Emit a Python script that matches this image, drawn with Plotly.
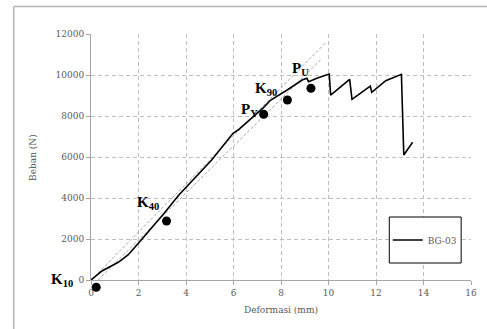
import plotly.graph_objects as go

# Load-deformation curve BG-03
deform = [0, 0.46, 1.15, 1.56, 2.05, 2.60, 3.08, 3.70, 5.08, 5.98, 6.19, 7.23, 7.57, 8.26, 8.89,
          9.09, 9.16, 9.51, 10.03, 10.09, 10.89, 10.99, 11.76, 11.82, 12.41, 13.07, 13.17, 13.54]
beban = [0, 439, 863, 1220, 1868, 2600, 3254, 4146, 5854, 7156, 7317, 8375, 8780, 9268, 9756,
         9839, 9673, 9839, 10049, 9024, 9790, 8815, 9463, 9156, 9722, 10033, 6098, 6717]

# Key points
pt_names = ["K<sub>10</sub>", "K<sub>40</sub>", "P<sub>Y</sub>", "K<sub>90</sub>", "P<sub>U</sub>"]
pt_x = [0.22, 3.18, 7.27, 8.27, 9.26]
pt_y = [-356, 2878, 8083, 8780, 9351]
lbl_x = [-1.23, 2.42, 6.69, 7.37, 8.82]
lbl_y = [0, 3756, 8293, 9317, 10293]

# Reference (stiffness) lines
refA_x = [0, 9.86]
refA_y = [0, 11550]
refB_x = [0.3, 9.72]
refB_y = [0, 10800]

x_ticks = [0, 2, 4, 6, 8, 10, 12, 14, 16]
y_ticks = [0, 2000, 4000, 6000, 8000, 10000, 12000]

font_ax = "DejaVu Serif"
grey_txt = "#595959"

X_MIN, X_MAX, Y_MIN, Y_MAX = 0, 16, 0, 12000

# pixel layout of the plotting region
L, R, T, B0, B = 91, 477, 34, 280, 292   # B0: pixel of y=0, B: bottom of extended area
W = R - L
H = B - T
d0 = (B - B0) / H                          # main y-axis domain start
ext = (B - B0) / (B0 - T) * (Y_MAX - Y_MIN)  # extra data room below y=0


def pxX(p):
    return (p - L) / W


def pxY(p):
    return (B - p) / H


def dataY(y):
    return pxY(B0 - (y - Y_MIN) / (Y_MAX - Y_MIN) * (B0 - T))


fig = go.Figure()
for rx, ry in [(refA_x, refA_y), (refB_x, refB_y)]:
    fig.add_trace(go.Scatter(x=rx, y=ry, mode="lines", showlegend=False,
                             line=dict(color="#a6a6a6", width=1, dash="3px,2px"),
                             hoverinfo="skip"))
fig.add_trace(go.Scatter(x=deform, y=beban, mode="lines", name="BG-03",
                         line=dict(color="black", width=1.6)))
# key points on a same-scale subplot extended below zero so the K10 point shows
fig.add_trace(go.Scatter(x=pt_x, y=pt_y, mode="markers", showlegend=False,
                         xaxis="x2", yaxis="y2",
                         marker=dict(color="black", size=9), cliponaxis=False))

annotations = []
for t, ax_, ay_ in zip(pt_names, lbl_x, lbl_y):
    annotations.append(dict(x=(ax_ - X_MIN) / (X_MAX - X_MIN), y=dataY(ay_),
                            xref="paper", yref="paper", text="<b>" + t + "</b>",
                            showarrow=False,
                            font=dict(family="Liberation Serif", size=15, color="black"),
                            xanchor="center", yanchor="middle"))
annotations.append(dict(x=0.5, y=pxY(310), xref="paper", yref="paper",
                        text="Deformasi (mm)", showarrow=False,
                        font=dict(family=font_ax, size=9, color=grey_txt),
                        xanchor="center", yanchor="middle"))
annotations.append(dict(x=pxX(32), y=pxY(157), xref="paper", yref="paper",
                        text="Beban (N)", showarrow=False, textangle=-90,
                        font=dict(family=font_ax, size=9, color=grey_txt),
                        xanchor="center", yanchor="middle"))

shapes = [
    # outer chart border (left and top edges visible)
    dict(type="line", xref="paper", yref="paper", x0=pxX(12.5), x1=pxX(12.5),
         y0=pxY(345), y1=pxY(6.5), line=dict(color="#b4b4b4", width=1.5)),
    dict(type="line", xref="paper", yref="paper", x0=pxX(12.5), x1=pxX(500),
         y0=pxY(6.5), y1=pxY(6.5), line=dict(color="#b4b4b4", width=1.5)),
    # legend box
    dict(type="rect", xref="paper", yref="paper", layer="above",
         x0=pxX(394), x1=pxX(467), y0=pxY(263), y1=pxY(217),
         line=dict(color="black", width=1), fillcolor="white"),
]

axis_common = dict(showgrid=True, gridcolor="#bfbfbf", griddash="4px,3px", gridwidth=1,
                   zeroline=False, showline=True, linecolor="#a6a6a6", linewidth=1,
                   ticks="outside", ticklen=4, tickcolor="#a6a6a6",
                   tickfont=dict(family=font_ax, size=9, color=grey_txt))

fig.update_layout(
    width=487, height=329,
    margin=dict(l=L, r=487 - R, t=T, b=329 - B),
    paper_bgcolor="white", plot_bgcolor="rgba(0,0,0,0)",
    showlegend=True,
    legend=dict(x=pxX(430), y=pxY(240), xanchor="center", yanchor="middle",
                bgcolor="rgba(0,0,0,0)", borderwidth=0,
                font=dict(family=font_ax, size=9, color=grey_txt), itemwidth=30),
    annotations=annotations,
    shapes=shapes,
    xaxis=dict(domain=[0, 1], range=[X_MIN, X_MAX], tickvals=x_ticks,
               ticktext=[str(v) for v in x_ticks], anchor="y", **axis_common),
    yaxis=dict(domain=[d0, 1], range=[Y_MIN, Y_MAX], tickvals=y_ticks,
               ticktext=[str(v) for v in y_ticks], anchor="x", **axis_common),
    xaxis2=dict(domain=[0, 1], range=[X_MIN, X_MAX], anchor="y2", visible=False,
                fixedrange=True),
    yaxis2=dict(domain=[0, 1], range=[Y_MIN - ext, Y_MAX], anchor="x2", visible=False,
                fixedrange=True),
)

fig.write_html("out.html", config={"displayModeBar": False},
               post_script="document.body.style.margin='0';")
